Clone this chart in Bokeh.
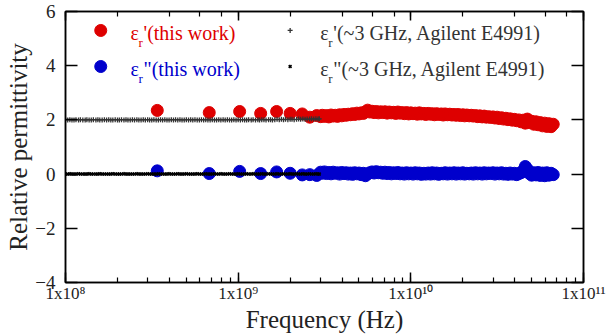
from bokeh.plotting import figure
from bokeh.models import (LogAxis, LinearAxis, Range1d, Label, CustomJSTickFormatter,
                          FixedTicker, ColumnDataSource)
from bokeh.embed import file_html
from bokeh.resources import INLINE

# ---------------- data ----------------
# Agilent E4991 (~3 GHz) reference data, frequency in MHz
agilent_f_mhz = [100, 103, 106, 109, 112, 115, 119, 122, 126, 130,
                 133, 137, 141, 145, 150, 154, 158, 163, 168, 173,
                 178, 183, 188, 194, 200, 205, 211, 218, 224, 230,
                 237, 244, 251, 259, 266, 274, 282, 290, 299, 307,
                 316, 325, 335, 345, 355, 365, 376, 387, 398, 410,
                 422, 434, 447, 460, 473, 487, 501, 516, 531, 546,
                 562, 579, 596, 613, 631, 649, 668, 688, 708, 729,
                 750, 772, 794, 818, 841, 866, 891, 917, 944, 972,
                 1000, 1030, 1060, 1090, 1120, 1150, 1190, 1220, 1260, 1300,
                 1330, 1370, 1410, 1450, 1500, 1540, 1580, 1630, 1680, 1730,
                 1780, 1830, 1880, 1940, 2000, 2050, 2110, 2180, 2240, 2300,
                 2370, 2440, 2510, 2590, 2660, 2740, 2820, 2900, 2950]
agilent_eps1 = [2.01, 2.00, 2.01, 2.00, 2.00, 2.01, 2.00, 2.01, 2.00, 2.00,
                2.01, 2.00, 2.00, 2.01, 2.00, 2.01, 2.00, 2.00, 2.01, 2.00,
                2.01, 2.00, 2.00, 2.01, 2.00, 2.00, 2.01, 2.00, 2.01, 2.00,
                2.00, 2.01, 2.00, 2.01, 2.00, 2.00, 2.01, 2.00, 2.01, 2.00,
                2.00, 2.01, 2.00, 2.00, 2.01, 2.00, 2.01, 2.00, 2.00, 2.01,
                2.00, 2.01, 2.00, 2.01, 2.00, 2.00, 2.01, 2.00, 2.01, 2.00,
                2.01, 2.00, 2.00, 2.01, 2.00, 2.01, 2.00, 2.00, 2.01, 2.00,
                2.00, 2.01, 2.00, 2.01, 2.00, 2.01, 2.00, 2.00, 2.01, 2.00,
                2.01, 2.00, 2.01, 2.00, 2.00, 2.01, 2.00, 2.01, 2.00, 2.01,
                2.00, 2.01, 2.01, 2.00, 2.01, 2.01, 2.00, 2.01, 2.02, 2.01,
                2.02, 2.01, 2.02, 2.01, 2.02, 2.02, 2.01, 2.02, 2.03, 2.02,
                2.03, 2.02, 2.03, 2.03, 2.04, 2.03, 2.04, 2.03, 2.04]
agilent_eps2 = [0.00, 0.00, 0.01, 0.00, 0.00, 0.00, 0.01, 0.00, 0.00, 0.00,
                0.00, 0.01, 0.00, 0.00, 0.00, 0.00, 0.01, 0.00, 0.00, 0.00,
                0.00, 0.00, 0.01, 0.00, 0.00, 0.00, 0.00, 0.01, 0.00, 0.00,
                0.00, 0.00, 0.00, 0.01, 0.00, 0.00, 0.00, 0.00, 0.01, 0.00,
                0.00, 0.00, 0.00, 0.01, 0.00, 0.00, 0.00, 0.00, 0.01, 0.00,
                0.00, 0.00, 0.01, 0.00, 0.00, 0.00, 0.01, 0.00, 0.00, 0.00,
                0.00, 0.01, 0.00, 0.00, 0.00, 0.01, 0.00, 0.00, 0.00, 0.01,
                0.00, 0.00, 0.01, 0.00, 0.00, 0.00, 0.01, 0.00, 0.00, 0.00,
                0.01, 0.00, 0.00, 0.00, 0.01, 0.00, 0.00, 0.01, 0.00, 0.00,
                0.00, 0.01, 0.00, 0.00, 0.01, 0.00, 0.00, 0.00, 0.01, 0.00,
                0.00, 0.01, 0.00, 0.00, 0.01, 0.00, 0.00, 0.01, 0.00, 0.00,
                0.01, 0.00, 0.00, 0.01, 0.00, 0.00, 0.01, 0.00, 0.00]

# This work: sparse low-frequency points, frequency in GHz
work_low_f_ghz = [0.34, 0.68, 1.02, 1.35, 1.67, 2.00, 2.35, 2.60, 2.85]
work_low_eps1 = [2.35, 2.27, 2.31, 2.24, 2.31, 2.24, 2.22, 2.10, 2.16]
work_low_eps2 = [0.12, 0.02, 0.10, 0.02, 0.08, 0.03, -0.03, -0.02, -0.05]

# This work: dense high-frequency points, frequency in GHz
work_f_ghz = [3.00, 3.07, 3.16, 3.25, 3.35, 3.45, 3.55, 3.65, 3.76, 3.87,
              3.98, 4.10, 4.22, 4.34, 4.47, 4.60, 4.73, 4.87, 5.01, 5.16,
              5.31, 5.46, 5.62, 5.79, 5.96, 6.13, 6.31, 6.49, 6.68, 6.88,
              7.08, 7.29, 7.50, 7.72, 7.94, 8.18, 8.41, 8.66, 8.91, 9.17,
              9.44, 9.72, 10.0, 10.3, 10.6, 10.9, 11.2, 11.5, 11.9, 12.2,
              12.6, 13.0, 13.3, 13.7, 14.1, 14.5, 15.0, 15.4, 15.8, 16.3,
              16.8, 17.3, 17.8, 18.3, 18.8, 19.4, 20.0, 20.5, 21.1, 21.8,
              22.4, 23.0, 23.7, 24.4, 25.1, 25.9, 26.6, 27.4, 28.2, 29.0,
              29.9, 30.7, 31.6, 32.5, 33.5, 34.5, 35.5, 36.5, 37.6, 38.7,
              39.8, 41.0, 42.2, 43.4, 44.7, 46.0, 47.3, 48.7, 50.1, 51.6,
              53.1, 54.6, 56.2, 57.9, 59.6, 61.3, 63.1, 64.9, 66.8]
work_eps1 = [2.12, 2.17, 2.13, 2.16, 2.11, 2.18, 2.14, 2.17, 2.13, 2.19,
             2.15, 2.20, 2.17, 2.21, 2.19, 2.23, 2.20, 2.25, 2.22, 2.26,
             2.24, 2.30, 2.36, 2.29, 2.32, 2.27, 2.31, 2.26, 2.30, 2.27,
             2.30, 2.25, 2.29, 2.26, 2.28, 2.24, 2.29, 2.25, 2.27, 2.23,
             2.27, 2.22, 2.26, 2.23, 2.25, 2.21, 2.26, 2.22, 2.24, 2.20,
             2.24, 2.21, 2.23, 2.19, 2.23, 2.20, 2.22, 2.18, 2.22, 2.19,
             2.21, 2.18, 2.20, 2.17, 2.20, 2.16, 2.19, 2.15, 2.18, 2.15,
             2.17, 2.14, 2.16, 2.12, 2.15, 2.11, 2.14, 2.10, 2.12, 2.09,
             2.11, 2.07, 2.10, 2.05, 2.08, 2.03, 2.06, 2.01, 2.04, 1.99,
             2.02, 1.97, 2.00, 1.93, 1.99, 1.88, 2.03, 1.90, 1.95, 1.84,
             1.93, 1.82, 1.90, 1.78, 1.88, 1.76, 1.86, 1.75, 1.84]
work_eps2 = [0.07, 0.03, 0.08, 0.02, 0.06, 0.01, 0.07, 0.03, 0.05, 0.00,
             0.06, 0.02, 0.05, 0.00, 0.04, -0.01, 0.05, 0.01, 0.04, -0.02,
             0.03, -0.06, 0.01, 0.05, 0.08, 0.04, 0.09, 0.05, 0.07, 0.03,
             0.07, 0.02, 0.06, 0.01, 0.05, 0.02, 0.06, 0.01, 0.04, 0.00,
             0.05, 0.01, 0.04, 0.00, 0.05, 0.01, 0.04, -0.01, 0.03, 0.00,
             0.04, 0.00, 0.05, 0.01, 0.04, -0.01, 0.03, 0.01, 0.05, 0.00,
             0.04, 0.01, 0.05, 0.00, 0.04, 0.01, 0.05, 0.00, 0.03, 0.01,
             0.04, 0.00, 0.05, 0.01, 0.04, 0.00, 0.05, 0.01, 0.04, 0.02,
             0.05, 0.00, 0.04, 0.01, 0.05, 0.00, 0.03, -0.01, 0.04, 0.00,
             0.03, -0.02, 0.02, 0.05, 0.12, 0.28, 0.18, 0.02, -0.04, 0.05,
             -0.03, 0.06, -0.05, 0.04, -0.06, 0.05, -0.04, 0.03, -0.02]

y_ticks = [-4, -2, 0, 2, 4, 6]

RED = "#de0000"
BLUE = "#0000cc"
DARK = "#333333"
FONT = "Liberation Serif"

src_ag = ColumnDataSource(dict(f=[v * 1e6 for v in agilent_f_mhz], e1=agilent_eps1, e2=agilent_eps2))
src_wl = ColumnDataSource(dict(f=[v * 1e9 for v in work_low_f_ghz], e1=work_low_eps1, e2=work_low_eps2))
src_w = ColumnDataSource(dict(f=[v * 1e9 for v in work_f_ghz], e1=work_eps1, e2=work_eps2))

p = figure(width=608, height=335, x_axis_type="log", output_backend="svg",
           toolbar_location=None, x_range=Range1d(1e8, 1e11), y_range=Range1d(-4, 6),
           min_border_left=65, min_border_right=25, min_border_top=11, min_border_bottom=53)
p.grid.visible = False
p.outline_line_color = "black"
p.outline_line_width = 1.5
p.background_fill_color = "white"
p.border_fill_color = "white"

# data
for src in (src_wl, src_w):
    p.scatter("f", "e1", source=src, size=12, color=RED)
    p.scatter("f", "e2", source=src, size=12, color=BLUE)
p.scatter("f", "e1", source=src_ag, marker="cross", size=5, line_color=DARK, line_width=1.3)
p.scatter("f", "e2", source=src_ag, marker="x", size=4, line_color="black", line_width=1.6)

# axes styling
sup = CustomJSTickFormatter(code="""
const s = {'0':'\u2070','1':'\u00b9','2':'\u00b2','3':'\u00b3','4':'\u2074','5':'\u2075','6':'\u2076','7':'\u2077','8':'\u2078','9':'\u2079'};
const e = String(Math.round(Math.log10(tick)));
let out = '';
for (const c of e) out += s[c];
return '1x10' + out;
""")

xa = p.xaxis[0]
xa.formatter = sup
xa.axis_label = "Frequency (Hz)"
ya = p.yaxis[0]
ya.ticker = FixedTicker(ticks=y_ticks)
ya.axis_label = "Relative permittivity"

for ax in (xa, ya):
    ax.axis_line_width = 1.5
    ax.axis_line_color = "black"
    ax.major_tick_in = 10
    ax.major_tick_out = 0
    ax.minor_tick_in = 5
    ax.minor_tick_out = 0
    ax.major_tick_line_width = 1.5
    ax.minor_tick_line_width = 1.2
    ax.major_label_text_font = FONT
    ax.axis_label_text_font = FONT
    ax.axis_label_text_font_style = "normal"
    ax.axis_label_text_font_size = "25px"
    ax.major_label_text_color = "#222222"
    ax.axis_label_text_color = "#222222"

xa.major_label_text_font_size = "17px"
xa.major_label_standoff = 1
xa.axis_label_standoff = 0
ya.major_label_text_font_size = "19px"
ya.major_label_standoff = 10
ya.axis_label_standoff = 0
ya.major_tick_in = 12
ya.minor_tick_line_color = None

top = LogAxis(major_label_text_font_size="1px", major_label_text_color=None,
              major_label_standoff=0,
              major_tick_in=9, major_tick_out=0, minor_tick_in=5, minor_tick_out=0,
              axis_line_width=1.5, major_tick_line_width=1.5, minor_tick_line_width=1.2)
p.add_layout(top, "above")
right = LinearAxis(ticker=FixedTicker(ticks=y_ticks), major_label_text_font_size="1px",
                   major_label_text_color=None, major_label_standoff=0,
                   major_tick_in=12, major_tick_out=0,
                   minor_tick_line_color=None, axis_line_width=1.5, major_tick_line_width=1.5)
p.add_layout(right, "right")

# legend (custom, to allow subscripts)
leg_marker_x = 1.6e8
leg_marker_x2 = 2.0e9
leg_text_x = 2.38e8
leg_text_x2 = 2.99e9
row_y = [5.30, 3.97]
row_mid = [5.19, 3.86]

p.scatter([leg_marker_x], [row_y[0]], size=12, color=RED)
p.scatter([leg_marker_x], [row_y[1]], size=12, color=BLUE)
p.scatter([leg_marker_x2], [row_y[0]], marker="cross", size=5, line_color=DARK, line_width=1.3)
p.scatter([leg_marker_x2], [row_y[1]], marker="x", size=4, line_color="black", line_width=1.6)

entries = [
    (leg_text_x, row_mid[0], "'(this work)", RED),
    (leg_text_x, row_mid[1], "\"(this work)", BLUE),
    (leg_text_x2, row_mid[0], "'(~3 GHz, Agilent E4991)", DARK),
    (leg_text_x2, row_mid[1], "\"(~3 GHz, Agilent E4991)", DARK),
]
for x, y, tail, col in entries:
    p.add_layout(Label(x=x, y=y, text="\u03b5", text_font=FONT, text_font_size="20px",
                       text_color=col, text_baseline="middle"))
    p.add_layout(Label(x=x, y=y, x_offset=8, y_offset=-9, text="r", text_font=FONT,
                       text_font_size="13px", text_color=col, text_baseline="middle"))
    p.add_layout(Label(x=x, y=y, x_offset=13, text=tail, text_font=FONT,
                       text_font_size="20px", text_color=col, text_baseline="middle"))

open("out.html", "w").write(file_html(p, INLINE))
